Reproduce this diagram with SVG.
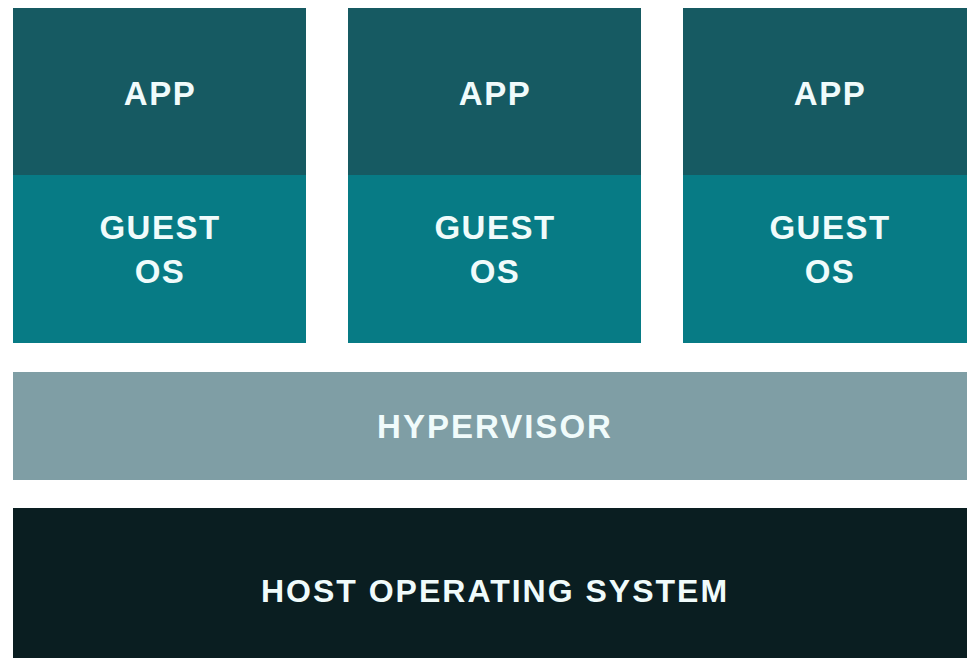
<svg xmlns="http://www.w3.org/2000/svg" width="967" height="658" viewBox="0 0 967 658">
<style>
.app{fill:#165a62}
.os{fill:#077b85}
.hyp{fill:#7f9ea5}
.host{fill:#0a1e21}
.lbl{font-family:"Liberation Sans",Arial,sans-serif;font-weight:bold;fill:#f0fbfb;text-anchor:middle;font-size:33px;letter-spacing:1.5px}
</style>
<rect width="967" height="658" fill="#ffffff"/>
<g id="vm1">
<rect class="app" x="13" y="8" width="293" height="167"/>
<rect class="os" x="13" y="175" width="293" height="168"/>
<text class="lbl" x="160" y="105">APP</text>
<text class="lbl" x="160" y="239">GUEST</text>
<text class="lbl" x="160" y="283">OS</text>
</g>
<g id="vm2">
<rect class="app" x="348" y="8" width="293" height="167"/>
<rect class="os" x="348" y="175" width="293" height="168"/>
<text class="lbl" x="495" y="105">APP</text>
<text class="lbl" x="495" y="239">GUEST</text>
<text class="lbl" x="495" y="283">OS</text>
</g>
<g id="vm3">
<rect class="app" x="683" y="8" width="293" height="167"/>
<rect class="os" x="683" y="175" width="293" height="168"/>
<text class="lbl" x="830" y="105">APP</text>
<text class="lbl" x="830" y="239">GUEST</text>
<text class="lbl" x="830" y="283">OS</text>
</g>
<g id="hypervisor">
<rect class="hyp" x="13" y="372" width="963" height="108"/>
<text class="lbl" x="495" y="438" style="letter-spacing:2px">HYPERVISOR</text>
</g>
<g id="host">
<rect class="host" x="13" y="508" width="963" height="150"/>
<text class="lbl" x="495" y="602" style="font-size:32px;letter-spacing:2px">HOST OPERATING SYSTEM</text>
</g>
<g id="connectors"></g>
</svg>
